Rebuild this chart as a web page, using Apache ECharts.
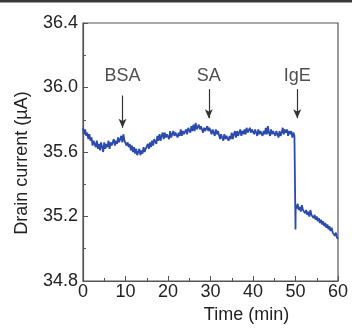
<!DOCTYPE html>
<html>
<head>
<meta charset="utf-8">
<script src="https://cdn.jsdelivr.net/npm/echarts@6/dist/echarts.min.js"></script>
<style>
html,body{margin:0;padding:0;background:#fff;}
#chart{width:352px;height:329px;}
</style>
</head>
<body>
<div id="chart"></div>
<script>
// Time (min)
const times = [
0,0.25,0.5,0.75, 1,1.25,1.5,1.75, 2,2.25,2.5,2.75, 3,3.25,3.5,3.75, 4,4.25,4.5,4.75,
5,5.25,5.5,5.75, 6,6.25,6.5,6.75, 7,7.25,7.5,7.75, 8,8.25,8.5,8.75, 9,9.25,9.5,9.75,
10,10.25,10.5,10.75, 11,11.25,11.5,11.75, 12,12.25,12.5,12.75, 13,13.25,13.5,13.75, 14,14.25,14.5,14.75,
15,15.25,15.5,15.75, 16,16.25,16.5,16.75, 17,17.25,17.5,17.75, 18,18.25,18.5,18.75, 19,19.25,19.5,19.75,
20,20.25,20.5,20.75, 21,21.25,21.5,21.75, 22,22.25,22.5,22.75, 23,23.25,23.5,23.75, 24,24.25,24.5,24.75,
25,25.25,25.5,25.75, 26,26.25,26.5,26.75, 27,27.25,27.5,27.75, 28,28.25,28.5,28.75, 29,29.25,29.5,29.75,
30,30.25,30.5,30.75, 31,31.25,31.5,31.75, 32,32.25,32.5,32.75, 33,33.25,33.5,33.75, 34,34.25,34.5,34.75,
35,35.25,35.5,35.75, 36,36.25,36.5,36.75, 37,37.25,37.5,37.75, 38,38.25,38.5,38.75, 39,39.25,39.5,39.75,
40,40.25,40.5,40.75, 41,41.25,41.5,41.75, 42,42.25,42.5,42.75, 43,43.25,43.5,43.75, 44,44.25,44.5,44.75,
45,45.25,45.5,45.75, 46,46.25,46.5,46.75, 47,47.25,47.5,47.75, 48,48.25,48.5,48.75, 49,49.25,49.5,49.75,
50,50,50.05,50.25,50.5,50.75,
51,51.25,51.5,51.75, 52,52.25,52.5,52.75, 53,53.25,53.5,53.75, 54,54.25,54.5,54.75,
55,55.25,55.5,55.75, 56,56.25,56.5,56.75, 57,57.25,57.5,57.75, 58,58.25,58.5,58.75, 59,59.25,59.5,59.75,
60
];
// Drain current (µA)
const current = [
35.75,35.71,35.74,35.70, 35.72,35.68,35.71,35.67, 35.69,35.64,35.67,35.65, 35.63,35.67,35.62,35.65, 35.61,35.66,35.63,35.60,
35.66,35.62,35.65,35.63, 35.67,35.62,35.66,35.64, 35.63,35.68,35.64,35.67, 35.65,35.69,35.66,35.68, 35.70,35.66,35.71,35.67,
35.68,35.64,35.66,35.63, 35.65,35.61,35.64,35.60, 35.63,35.59,35.62,35.58, 35.57,35.62,35.58,35.61, 35.59,35.63,35.60,35.62,
35.61,35.65,35.62,35.66, 35.63,35.67,35.64,35.68, 35.69,35.65,35.70,35.67, 35.71,35.67,35.70,35.72, 35.68,35.72,35.69,35.71,
35.72,35.68,35.73,35.69, 35.69,35.73,35.70,35.72, 35.73,35.69,35.72,35.70, 35.74,35.70,35.73,35.71, 35.70,35.74,35.71,35.75,
35.75,35.72,35.76,35.73, 35.77,35.73,35.78,35.74, 35.73,35.77,35.74,35.76, 35.76,35.72,35.75,35.73, 35.72,35.76,35.73,35.75,
35.75,35.71,35.74,35.72, 35.70,35.74,35.71,35.73, 35.72,35.68,35.71,35.69, 35.67,35.71,35.68,35.70, 35.71,35.67,35.70,35.68,
35.72,35.68,35.71,35.73, 35.69,35.73,35.70,35.72, 35.74,35.70,35.73,35.71, 35.74,35.71,35.75,35.72, 35.71,35.75,35.72,35.74,
35.75,35.71,35.74,35.72, 35.70,35.74,35.71,35.73, 35.74,35.70,35.73,35.71, 35.75,35.71,35.76,35.72, 35.70,35.74,35.71,35.73,
35.74,35.70,35.73,35.71, 35.69,35.73,35.70,35.72, 35.75,35.71,35.74,35.72, 35.74,35.70,35.73,35.71, 35.73,35.69,35.72,35.70,
35.71,35.12,35.27,35.25,35.28,35.24,
35.26,35.23,35.27,35.24, 35.25,35.22,35.24,35.21, 35.23,35.20,35.24,35.21, 35.22,35.19,35.21,35.18,
35.20,35.17,35.19,35.16, 35.18,35.15,35.17,35.14, 35.16,35.13,35.15,35.12, 35.14,35.11,35.13,35.10, 35.11,35.08,35.10,35.07,
35.06
];
// Annotations
const annoLabels = ['BSA', 'SA', 'IgE'];
const annoTimes = [9.3, 29.6, 50.4];
const arrowTop = [35.95, 35.99, 35.99];
const arrowTip = [35.75, 35.81, 35.81];
const labelLevel = 36.07;
// Axis ticks
const xTicks = [0, 10, 20, 30, 40, 50, 60];
const yTicks = [34.8, 35.2, 35.6, 36.0, 36.4];

const FONT = '"Liberation Sans", Arial, Helvetica, sans-serif';
const chart = echarts.init(document.getElementById('chart'), null, {renderer: 'canvas'});

const lineData = times.map((t, i) => [t, current[i]]);
const arrows = annoTimes.map((t, i) => [{coord: [t, arrowTop[i]]}, {coord: [t, arrowTip[i]]}]);
const labelData = annoTimes.map((t, i) => ({value: [t, labelLevel], name: annoLabels[i]}));

chart.setOption({
  animation: false,
  backgroundColor: '#fff',
  graphic: [{type: 'rect', left: 0, top: 0, shape: {width: 352, height: 2.5}, style: {fill: '#3a3a3a'}}],
  grid: {left: 83, right: 14, top: 23, bottom: 48, show: true, borderColor: '#555', borderWidth: 1.2, backgroundColor: 'transparent'},
  xAxis: {
    type: 'value', min: xTicks[0], max: xTicks[xTicks.length - 1], interval: 10,
    name: 'Time (min)', nameLocation: 'middle', nameGap: 22,
    nameTextStyle: {fontFamily: FONT, fontSize: 18, color: '#222', padding: [0, 0, 0, 72]},
    axisLine: {show: true, lineStyle: {color: '#555', width: 1.2}},
    axisTick: {show: true, inside: true, length: 5, lineStyle: {color: '#555'}},
    minorTick: {show: true, splitNumber: 2, length: 3, lineStyle: {color: '#555'}},
    splitLine: {show: false},
    axisLabel: {fontFamily: FONT, fontSize: 18, color: '#222', margin: 2}
  },
  yAxis: {
    type: 'value', min: yTicks[0], max: yTicks[yTicks.length - 1], interval: 0.4,
    name: 'Drain current (µA)', nameLocation: 'middle', nameGap: 52,
    nameTextStyle: {fontFamily: FONT, fontSize: 18, color: '#222', padding: [0, 22, 0, 0]},
    axisLine: {show: true, lineStyle: {color: '#555', width: 1.2}},
    axisTick: {show: true, inside: true, length: 5, lineStyle: {color: '#555'}},
    minorTick: {show: true, splitNumber: 2, length: 3, lineStyle: {color: '#555'}},
    splitLine: {show: false},
    axisLabel: {fontFamily: FONT, fontSize: 18, color: '#222', margin: 5, formatter: v => v.toFixed(1)}
  },
  series: [
    {
      type: 'line', data: lineData, showSymbol: false, symbol: 'none',
      lineStyle: {color: '#2b4aae', width: 1.8}, z: 3,
      markLine: {
        silent: true, symbol: ['none', 'arrow'], symbolSize: [6, 9],
        lineStyle: {color: '#333', width: 1.2, type: 'solid'},
        label: {show: false}, data: arrows
      }
    },
    {
      type: 'scatter', data: labelData, symbolSize: 0, silent: true,
      label: {show: true, position: 'inside', formatter: p => p.name, fontFamily: FONT, fontSize: 18, color: '#222'}
    }
  ]
});
</script>
</body>
</html>
